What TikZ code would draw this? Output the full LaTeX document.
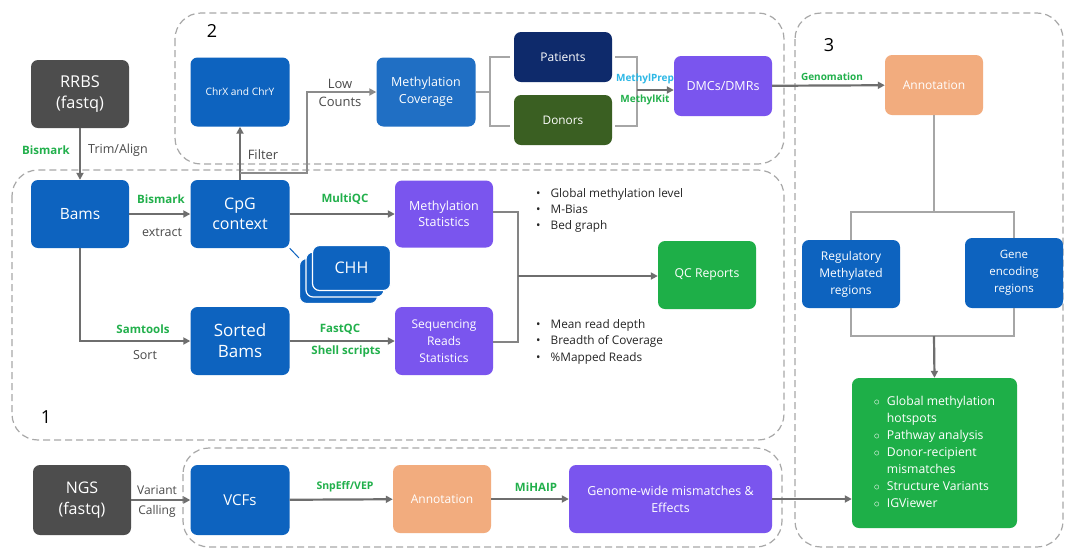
\documentclass[tikz,border=0pt]{standalone}
\usepackage{fontspec}
\setmainfont{Open Sans}
\usetikzlibrary{arrows.meta,calc}
\definecolor{cBlue}{HTML}{0D63BF}
\definecolor{cGray}{HTML}{4D4D4D}
\definecolor{cNavy}{HTML}{0E2A6B}
\definecolor{cDGreen}{HTML}{3A5F22}
\definecolor{cPurple}{HTML}{7A55EE}
\definecolor{cOrange}{HTML}{F2AC7E}
\definecolor{cGreen}{HTML}{1EAF48}
\definecolor{cArrow}{HTML}{6E6E6E}
\definecolor{cLine}{HTML}{A6A6A6}
\definecolor{cDash}{HTML}{A8A8A8}
\definecolor{cLabG}{HTML}{22B04C}
\definecolor{cLabC}{HTML}{2EB8E6}
\definecolor{cLabT}{HTML}{4A4A4A}
\newcommand\fsz[2]{\fontsize{#1}{#2}\selectfont}
\begin{document}
\begin{tikzpicture}[x=1pt,y=-1pt,
  box/.style={rounded corners=7pt, text=white, align=center, inner sep=2pt},
  arr/.style={draw=cArrow, line width=2.2pt, -{Triangle[length=7pt,width=7pt]}},
  brk/.style={draw=cLine, line width=1.4pt},
  region/.style={draw=cDash, line width=1.2pt, dash pattern=on 7pt off 4pt, rounded corners=26pt},
  lab/.style={font=\fsz{11.5}{13}\bfseries, text=cLabG, inner sep=1pt},
  labs/.style={font=\fsz{10}{12}\bfseries, text=cLabG, inner sep=1pt},
  labt/.style={font=\fsz{12.5}{14}, text=cLabT, inner sep=1pt},
  num/.style={font=\fsz{18}{20}, text=black}]
\useasboundingbox (0,0) rectangle (1066,550);
\fill[white] (0,0) rectangle (1066,550);

% regions
\draw[region] (175,13) rectangle (784,164);
\draw[region] (12,170) rectangle (784,440);
\draw[region] (183,448) rectangle (782,547);
\draw[region] (795,13) rectangle (1063,547);
\node[num] (n2) at (212,31) {2};
\node[num] (n3) at (829,45) {3};
\node[num] (n1) at (46,417) {1};

% nodes
\node[box, fill=cGray, minimum width=98pt, minimum height=68pt, font=\fsz{16.3}{21}] (rrbs) at (80,94) {RRBS\\(fastq)};
\node[box, fill=cBlue, minimum width=98pt, minimum height=68pt, font=\fsz{15.5}{18}] (bams) at (80,214) {Bams};
\node[box, fill=cBlue, minimum width=99pt, minimum height=68pt, font=\fsz{16}{19.5}] (cpg) at (240,214) {CpG\\context};
\node[box, fill=cBlue, minimum width=99pt, minimum height=69pt, font=\fsz{10.2}{12}] (chrx) at (240,92) {ChrX and ChrY};
\node[box, fill=cBlue!92!white, minimum width=99pt, minimum height=69pt, font=\fsz{12.5}{17}] (cov) at (426,92) {Methylation\\Coverage};
\node[box, fill=cNavy, minimum width=98pt, minimum height=50pt, font=\fsz{12}{14}] (pat) at (563,57) {Patients};
\node[box, fill=cDGreen, minimum width=98pt, minimum height=50pt, font=\fsz{11.8}{14}] (don) at (563,120) {Donors};
\node[box, fill=cPurple, minimum width=98pt, minimum height=60pt, font=\fsz{12.5}{15}] (dmc) at (723,86) {DMCs/DMRs};
\node[box, fill=cOrange, minimum width=98pt, minimum height=60pt, font=\fsz{12}{15}] (ann1) at (934,85) {Annotation};
\node[box, fill=cPurple, minimum width=98pt, minimum height=67pt, font=\fsz{12.5}{16.5}] (mstat) at (444,214) {Methylation\\Statistics};
\node[box, fill=cBlue, draw=white, line width=1.2pt, minimum width=78pt, minimum height=45pt] (chh3) at (338.5,281) {};
\node[box, fill=cBlue, draw=white, line width=1.2pt, minimum width=78pt, minimum height=45pt] (chh2) at (345,274.5) {};
\node[box, fill=cBlue, draw=white, line width=1.2pt, minimum width=78pt, minimum height=45pt, font=\fsz{16}{19}] (chh) at (351.5,268) {CHH};
\node[box, fill=cBlue, minimum width=99pt, minimum height=68pt, font=\fsz{17}{21}] (sorted) at (240,341) {Sorted\\Bams};
\node[box, fill=cPurple, minimum width=98pt, minimum height=68pt, font=\fsz{12}{17}] (seq) at (444,341) {Sequencing\\Reads\\Statistics};
\node[box, fill=cGreen, minimum width=98pt, minimum height=68pt, font=\fsz{12.2}{14}] (qc) at (707,275) {QC Reports};
\node[box, fill=cBlue, minimum width=98pt, minimum height=68pt, font=\fsz{12}{17}] (reg) at (851,274) {Regulatory\\Methylated\\regions};
\node[box, fill=cBlue, minimum width=98pt, minimum height=70pt, font=\fsz{11.5}{17}] (gene) at (1014,273) {Gene\\encoding\\regions};
\node[box, fill=cGreen, minimum width=165pt, minimum height=150pt, font=\fsz{12.2}{17}] (res) at (934.5,453) {%
  \begin{tabular}{@{}c@{\hspace{7pt}}l@{}}
  $\circ$ & Global methylation\\
          & hotspots\\
  $\circ$ & Pathway analysis\\
  $\circ$ & Donor-recipient\\
          & mismatches\\
  $\circ$ & Structure Variants\\
  $\circ$ & IGViewer
  \end{tabular}};
\node[box, fill=cGray, minimum width=98pt, minimum height=70pt, font=\fsz{16}{21}] (ngs) at (82,500) {NGS\\(fastq)};
\node[box, fill=cBlue, minimum width=99pt, minimum height=70pt, font=\fsz{15}{18}] (vcf) at (240,500) {VCFs};
\node[box, fill=cOrange, minimum width=98pt, minimum height=68pt, font=\fsz{12}{14}] (ann2) at (442,499) {Annotation};
\node[box, fill=cPurple, minimum width=203pt, minimum height=68pt, font=\fsz{12.4}{17}] (gw) at (670.5,499) {Genome-wide mismatches \&\\Effects};

% bullets
\node[anchor=north west, align=left, font=\fsz{11.8}{16}, text=black!85, inner sep=0pt] (b1) at (536,188)
  {\textbullet\hspace{10pt}Global methylation level\\\textbullet\hspace{10pt}M-Bias\\\textbullet\hspace{10pt}Bed graph};
\node[anchor=north west, align=left, font=\fsz{11.8}{16.5}, text=black!85, inner sep=0pt] (b2) at (536,319)
  {\textbullet\hspace{10pt}Mean read depth\\\textbullet\hspace{10pt}Breadth of Coverage\\\textbullet\hspace{10pt}\%Mapped Reads};

% connectors section 1/2
\draw[arr] (rrbs) -- (bams);
\node[lab] (l1) at (46,150) {Bismark};
\node[labt] (l2) at (118,150) {Trim/Align};
\draw[arr] (bams) -- (cpg);
\node[lab] (l3) at (161,199) {Bismark};
\node[labt] (l4) at (162,232) {extract};
\draw[arr] (cpg) -- (chrx);
\coordinate (f1) at (240,173);
\draw[draw=cArrow!80, line width=2pt, -{Triangle[length=7pt,width=7pt]}] (f1) -- ++(67,0) |- (cov.west);
\node[labt, font=\fsz{13}{15}] (l5) at (263,155) {Filter};
\node[labt, align=center, font=\fsz{13}{18}] (l6) at (340,93) {Low\\Counts};
\draw[brk] (cov.east) -- ++(15,0);
\draw[brk] (510,57) -- (490,57) -- (490,126) -- (510,126);
\draw[brk] (pat.east) ++(3,0) -- (637,57) -- (637,126) -- ($(don.east)+(3,6)$);
\coordinate (b2r) at (637,90);
\draw[arr] (b2r) -- (dmc.west |- b2r);
\node[labs, text=cLabC] (l7) at (645,79) {MethylPrep};
\node[labs] (l8) at (645,100) {MethylKit};
\draw[arr] (dmc) -- (ann1);
\node[labs] (l9) at (832,77) {Genomation};
\draw[arr] (cpg) -- (mstat);
\node[lab] (l10) at (345,199) {MultiQC};
\draw[cBlue, line width=1pt] (cpg.south east) -- (chh3.north west);
\draw[arr] (bams) |- (sorted);
\node[lab] (l11) at (143,329) {Samtools};
\node[labt] (l12) at (145,355) {Sort};
\draw[arr] (sorted) -- (seq);
\node[lab] (l13) at (340,329) {FastQC};
\node[lab] (l14) at (346,352) {Shell scripts};
\draw[brk, draw=cArrow!85] (mstat.east |- 0,212) -- (518,212) -- (518,342) -- (seq.east |- 0,342);
\coordinate (qb) at (518,276);
\draw[arr] (qb) -- (qc.west |- qb);

% section 3
\draw[brk] (ann1.south) -- (934,212);
\draw[brk] (reg.north) |- (934,212) -| (gene.north);
\draw[brk] (reg.south) |- (934,336) -| (gene.south);
\coordinate (rb) at (934,336);
\draw[arr] (rb) -- (res.north);

% bottom row
\draw[arr] (ngs) -- (vcf);
\node[labt, font=\fsz{12}{14}] (l15) at (157,490) {Variant};
\node[labt, font=\fsz{12}{14}] (l16) at (157,511) {Calling};
\draw[arr] (vcf) -- (ann2);
\node[lab, font=\fsz{10.5}{12}\bfseries] (l17) at (345,487) {SnpEff/VEP};
\draw[arr] (ann2) -- (gw);
\node[lab] (l18) at (536,487) {MiHAIP};
\draw[arr] (gw) -- (res.west |- gw);
\end{tikzpicture}
\end{document}
